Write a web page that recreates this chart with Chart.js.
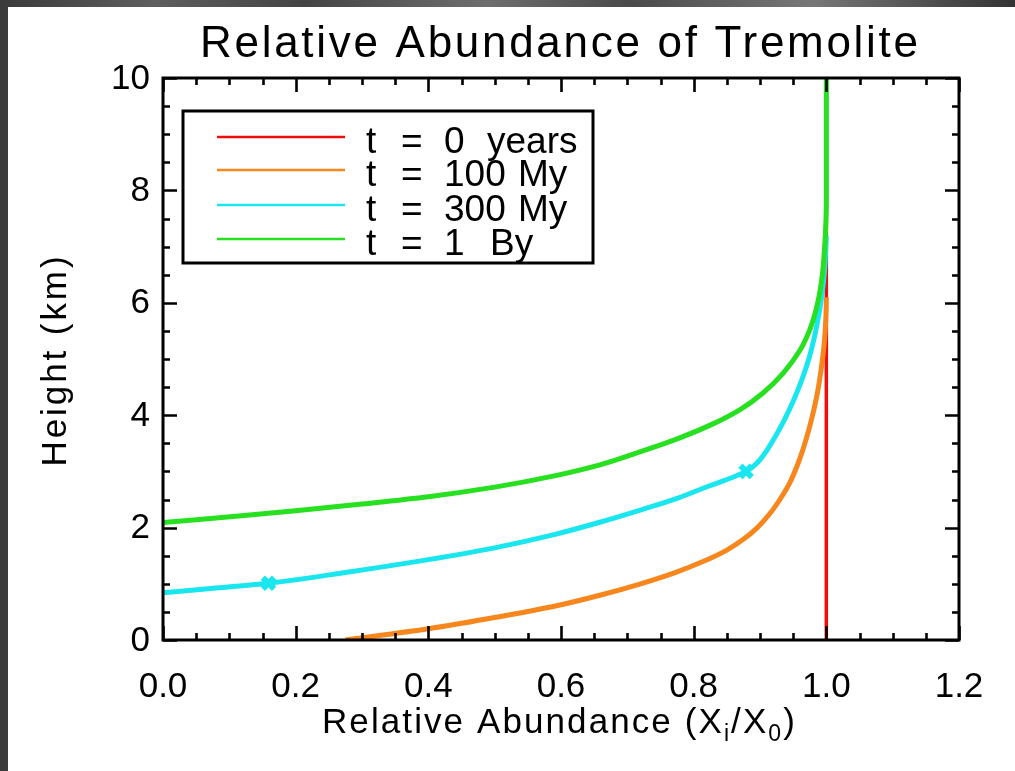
<!DOCTYPE html>
<html><head><meta charset="utf-8">
<script src="https://cdn.jsdelivr.net/npm/chart.js@4.4.1/dist/chart.umd.min.js"></script>
<style>
html,body{margin:0;padding:0;}
body{width:1015px;height:771px;overflow:hidden;position:relative;
background:linear-gradient(90deg,#3a3a3a 0%,#5e5e5e 15%,#444 30%,#6e6e6e 48%,#4a4a4a 62%,#777 80%,#333 100%);}
#panel{position:absolute;left:8px;top:7px;width:1007px;height:764px;background:#fff;}
canvas{display:block;}
</style></head>
<body><div id="panel"><canvas id="c" width="1007" height="764"></canvas></div>
<script>
// ---- data ----
const chartTitle = 'Relative Abundance of Tremolite';
const xTitleParts = ['Relative Abundance (X', 'i', '/X', '0', ')'];
const yTitle = 'Height (km)';
const xTickLabels = ['0.0','0.2','0.4','0.6','0.8','1.0','1.2'];
const yTickLabels = ['0','2','4','6','8','10'];
const legendT = ['t','t','t','t'];
const legendValues = ['0','100','300','1'];
const legendUnits = ['years','My','My','By'];

const red0X = [1.0, 1.0];
const red0Y = [0, 10];

const orange100X = [0.275,0.400,0.500,0.590,0.660,0.720,0.772,0.815,0.850,0.876,0.896,0.915,0.930,0.945,0.956,0.965,0.975,0.985,0.992,0.997,0.9995,1.0];
const orange100Y = [0.00,0.20,0.40,0.60,0.80,1.00,1.20,1.40,1.60,1.80,2.00,2.25,2.50,2.80,3.10,3.40,3.80,4.30,4.80,5.30,5.80,6.10];

const cyan300X = [0.0,0.08,0.159,0.28,0.40,0.50,0.588,0.66,0.722,0.775,0.823,0.860,0.879,0.893,0.906,0.922,0.936,0.952,0.971,0.984,0.994,0.998,1.0];
const cyan300Y = [0.84,0.925,1.01,1.21,1.43,1.64,1.87,2.10,2.32,2.52,2.74,2.90,3.00,3.12,3.30,3.60,3.90,4.30,4.90,5.50,6.20,6.70,7.20];

const green1X = [0.0,0.11,0.20,0.30,0.40,0.50,0.59,0.66,0.72,0.78,0.83,0.87,0.905,0.935,0.960,0.976,0.987,0.994,0.998,1.0,1.0];
const green1Y = [2.09,2.20,2.30,2.42,2.55,2.72,2.92,3.12,3.35,3.60,3.85,4.10,4.40,4.75,5.15,5.55,6.00,6.50,7.10,7.80,10.0];

const markerX = [0.159, 0.879];
const markerY = [1.01, 3.0];

const xMinorStep = 0.05, yMinorStep = 0.5;
const colors = ['#f20d0d','#f7861c','#19e6ee','#27e01f'];

function pts(xs, ys){ return xs.map((v,i)=>({x:v,y:ys[i]})); }

const FONT = '"Liberation Sans", Arial, sans-serif';

function textW(ctx, t){ ctx.letterSpacing='0px'; return ctx.measureText(t).width; }
function spaced(ctx, text, x, y, target){
  const w = textW(ctx, text);
  const ls = target ? (target - w) / Math.max(1, text.length - 1) : 0;
  ctx.letterSpacing = ls + 'px';
  ctx.textAlign = 'left';
  ctx.fillText(text, x, y);
  ctx.letterSpacing = '0px';
}

const decor = {
  id: 'decor',
  afterDatasetsDraw(chart){
    const {ctx, chartArea:a, scales:{x, y}} = chart;
    ctx.save();
    ctx.fillStyle = '#000'; ctx.strokeStyle = '#000';
    ctx.lineWidth = 3;
    ctx.strokeRect(a.left, a.top, a.right - a.left, a.bottom - a.top);
    ctx.lineWidth = 2.6;
    ctx.beginPath();
    const xMaj = xTickLabels.map(parseFloat), yMaj = yTickLabels.map(parseFloat);
    for (let k = 0; k * xMinorStep <= x.max + 1e-9; k++){
      const v = k * xMinorStep;
      const major = xMaj.some(m => Math.abs(m - v) < 1e-6);
      const L = major ? 14 : 7;
      const px = Math.round(x.getPixelForValue(v)) + 0.5;
      ctx.moveTo(px, a.bottom); ctx.lineTo(px, a.bottom - L);
      ctx.moveTo(px, a.top); ctx.lineTo(px, a.top + L);
    }
    for (let k = 0; k * yMinorStep <= y.max + 1e-9; k++){
      const v = k * yMinorStep;
      const major = yMaj.some(m => Math.abs(m - v) < 1e-6);
      const L = major ? 14 : 7;
      const py = Math.round(y.getPixelForValue(v)) + 0.5;
      ctx.moveTo(a.left, py); ctx.lineTo(a.left + L, py);
      ctx.moveTo(a.right, py); ctx.lineTo(a.right - L, py);
    }
    ctx.stroke();
    ctx.font = '35px ' + FONT;
    ctx.textBaseline = 'alphabetic';
    ctx.textAlign = 'center';
    xTickLabels.forEach(l => ctx.fillText(l, x.getPixelForValue(parseFloat(l)), a.bottom + 57));
    ctx.textAlign = 'right';
    ctx.textBaseline = 'middle';
    yTickLabels.forEach(l => ctx.fillText(l, 142, y.getPixelForValue(parseFloat(l)) + 1));
    ctx.textBaseline = 'alphabetic';
    ctx.font = '44px ' + FONT;
    spaced(ctx, chartTitle, 192, 50, 718);
    ctx.save();
    ctx.translate(58, 353);
    ctx.rotate(-Math.PI/2);
    ctx.font = '35px ' + FONT;
    const yw = textW(ctx, yTitle);
    ctx.letterSpacing = ((210 - yw) / (yTitle.length - 1)) + 'px';
    ctx.textAlign = 'center';
    ctx.fillText(yTitle, 0, 0);
    ctx.letterSpacing = '0px';
    ctx.restore();
    const runs = xTitleParts.map((t, i) => ({t, sub: i === 1 || i === 3}));
    let base = 0, n = 0;
    runs.forEach(r => { ctx.font = (r.sub ? 23 : 35) + 'px ' + FONT; r.w = textW(ctx, r.t); base += r.w; n += r.t.length; });
    const xls = (475 - base) / n;
    let cx = 314;
    runs.forEach(r => {
      ctx.font = (r.sub ? 23 : 35) + 'px ' + FONT;
      ctx.letterSpacing = xls + 'px';
      ctx.textAlign = 'left';
      ctx.fillText(r.t, cx, 726 + (r.sub ? 8 : 0));
      cx += r.w + xls * r.t.length;
    });
    ctx.letterSpacing = '0px';
    ctx.lineWidth = 3;
    ctx.strokeRect(175, 104, 410, 152);
    const rowsY = [130, 163, 198, 232];
    const unitX = [479, 510, 510, 482];
    ctx.font = '37px ' + FONT;
    rowsY.forEach((ly, i) => {
      ctx.strokeStyle = colors[i]; ctx.lineWidth = 2.5;
      ctx.beginPath(); ctx.moveTo(209, ly); ctx.lineTo(337, ly); ctx.stroke();
      ctx.fillStyle = '#000';
      ctx.textAlign = 'left';
      ctx.fillText(legendT[i], 358, ly + 16);
      ctx.fillText('=', 393, ly + 16);
      ctx.fillText(legendValues[i], 436, ly + 16);
      ctx.fillText(legendUnits[i], unitX[i], ly + 16);
    });
    ctx.restore();
  }
};

const lineDs = (xs, ys, c, w, order) => ({
  data: pts(xs, ys), borderColor: c, borderWidth: w, pointRadius: 0,
  showLine: true, cubicInterpolationMode: 'monotone', indexAxis: 'y', fill: false, order
});

new Chart(document.getElementById('c'), {
  type: 'scatter',
  data: { datasets: [
    lineDs(red0X, red0Y, colors[0], 3.5, 5),
    lineDs(orange100X, orange100Y, colors[1], 5, 4),
    lineDs(cyan300X, cyan300Y, colors[2], 5, 3),
    lineDs(green1X, green1Y, colors[3], 5, 2),
    { data: pts(markerX, markerY), showLine: false, pointStyle: 'crossRot', pointRadius: 8,
      borderColor: colors[2], backgroundColor: colors[2], pointBorderWidth: 6, borderWidth: 6, order: 1 }
  ]},
  options: {
    responsive: false, animation: false, devicePixelRatio: 1,
    layout: { padding: { left: 0, top: 71, right: 56, bottom: 0 } },
    plugins: { legend: { display: false }, tooltip: { enabled: false }, title: { display: false } },
    scales: {
      x: { type: 'linear', position: 'bottom', min: 0, max: 1.2,
        afterBuildTicks: s => { s.ticks = xTickLabels.map(l => ({value: parseFloat(l)})); },
        afterFit: s => { s.height = 131; },
        ticks: { display: false }, grid: { display: false }, border: { display: false } },
      y: { type: 'linear', position: 'left', min: 0, max: 10,
        afterBuildTicks: s => { s.ticks = yTickLabels.map(l => ({value: parseFloat(l)})); },
        afterFit: s => { s.width = 155; },
        ticks: { display: false }, grid: { display: false }, border: { display: false } }
    }
  },
  plugins: [decor]
});
</script>
</body></html>
